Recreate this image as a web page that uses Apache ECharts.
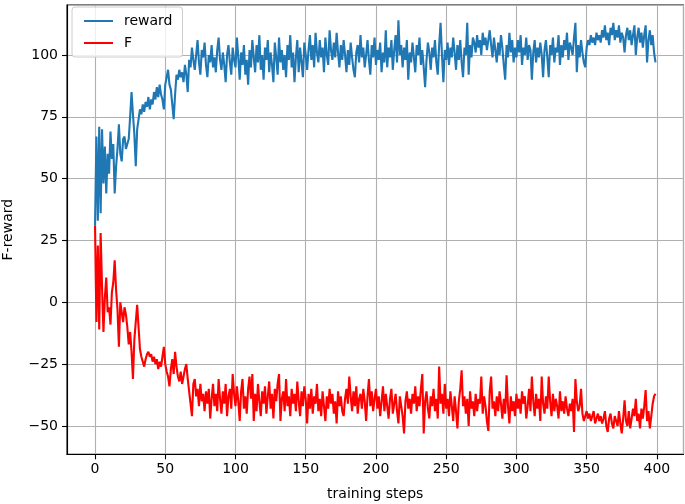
<!DOCTYPE html>
<html>
<head>
<meta charset="utf-8">
<script src="https://cdn.jsdelivr.net/npm/echarts@6/dist/echarts.min.js"></script>
<style>
html,body{margin:0;padding:0;background:#fff;}
#c{width:685px;height:504px;}
</style>
</head>
<body>
<div id="c"></div>
<script>
const seriesNames = ['reward', 'F'];
const xTicks = [0, 50, 100, 150, 200, 250, 300, 350, 400];
const yTicks = [-50, -25, 0, 25, 50, 75, 100];

const reward = [
31, 67, 33, 71, 36, 70, 48, 63, 44, 60, 52, 69, 58, 64, 44, 55, 62, 72, 60, 57,
66, 67, 62, 64, 66, 75, 85, 76, 68, 55, 70, 74, 78, 76, 80, 77, 81, 79, 83, 78,
82, 80, 85, 82, 87, 83, 88, 84, 82, 78, 88, 91, 94, 88, 86, 80, 74, 84, 92, 90,
94, 91, 93, 89, 96, 92, 85, 98, 95, 103, 98, 94, 100, 106, 97, 92, 102, 99, 105, 96,
91, 100, 97, 104, 95, 99, 93, 102, 107, 98, 94, 101, 96, 89, 100, 104, 97, 92, 103, 98,
95, 107, 99, 90, 101, 96, 104, 92, 98, 88, 102, 95, 106, 99, 93, 104, 97, 108, 94, 100,
90, 103, 98, 106, 93, 101, 96, 89, 105, 99, 92, 107, 97, 102, 94, 100, 91, 104, 98, 108,
95, 101, 89, 99, 106, 93, 103, 97, 91, 105, 100, 94, 102, 108, 98, 104, 95, 109, 101, 97,
106, 99, 103, 93, 107, 100, 96, 110, 102, 98, 105, 99, 109, 101, 95, 104, 98, 106, 100, 93,
102, 96, 105, 99, 94, 91, 101, 104, 97, 108, 99, 103, 95, 100, 106, 98, 92, 104, 99, 107,
96, 102, 98, 105, 93, 101, 97, 110, 95, 103, 99, 106, 94, 102, 108, 97, 114, 100, 104, 95,
103, 98, 106, 90, 101, 97, 105, 99, 93, 104, 100, 107, 96, 102, 95, 87, 98, 105, 101, 94,
103, 99, 106, 97, 92, 104, 113, 100, 89, 102, 98, 105, 96, 103, 99, 107, 101, 94, 104, 98,
106, 97, 91, 103, 100, 113, 92, 104, 99, 107, 105, 101, 108, 103, 106, 100, 109, 104, 107, 102,
106, 110, 104, 99, 107, 102, 97, 105, 100, 108, 103, 96, 90, 104, 99, 109, 101, 106, 97, 103,
99, 106, 101, 108, 96, 103, 100, 107, 98, 104, 102, 90, 101, 106, 97, 103, 99, 105, 100, 91,
102, 106, 99, 91, 104, 100, 107, 97, 103, 101, 108, 96, 104, 99, 106, 102, 109, 98, 105, 103,
100, 107, 113, 93, 104, 99, 106, 101, 97, 95, 103, 106, 104, 108, 105, 107, 104, 109, 106, 108,
105, 110, 107, 112, 106, 109, 104, 111, 108, 113, 106, 110, 107, 112, 105, 109, 107, 101, 108, 111,
106, 110, 104, 108, 112, 100, 107, 111, 105, 109, 103, 108, 112, 97, 106, 110, 104, 108, 101, 97
];

const F = [
31, -8, 23, -11, 28, 6, -12, 2, 10, -4, -2, -9, 4, 8, 17, 5, -3, -18, 0, -4,
-8, -2, -5, -10, -17, -12, -20, -31, -15, -8, -1, -10, -19, -22, -24, -26, -23, -21, -20, -22,
-21, -24, -22, -25, -23, -27, -24, -26, -22, -18, -25, -28, -30, -34, -27, -23, -29, -20, -26, -30,
-32, -28, -33, -30, -27, -25, -31, -36, -41, -46, -33, -31, -38, -35, -42, -33, -40, -37, -44, -36,
-41, -35, -47, -39, -33, -42, -37, -44, -31, -39, -45, -36, -41, -33, -46, -38, -35, -43, -29, -37,
-42, -34, -40, -48, -36, -31, -43, -38, -45, -35, -30, -39, -29, -48, -37, -44, -33, -40, -46, -36,
-41, -34, -45, -38, -32, -43, -37, -47, -35, -40, -33, -29, -48, -39, -36, -44, -31, -42, -38, -46,
-35, -41, -37, -44, -32, -40, -46, -36, -42, -34, -39, -49, -37, -43, -35, -45, -38, -41, -33, -44,
-39, -46, -36, -42, -48, -38, -43, -35, -41, -37, -45, -40, -49, -36, -42, -38, -44, -46, -39, -35,
-41, -30, -38, -44, -36, -42, -34, -45, -39, -37, -43, -35, -40, -48, -38, -31, -42, -36, -44, -39,
-35, -43, -38, -46, -40, -34, -44, -37, -42, -47, -39, -35, -45, -41, -37, -44, -49, -38, -42, -46,
-53, -40, -36, -43, -39, -45, -37, -41, -34, -44, -38, -42, -35, -29, -53, -40, -36, -43, -47, -38,
-42, -35, -44, -39, -47, -26, -41, -37, -45, -33, -43, -39, -46, -36, -42, -48, -38, -44, -51, -40,
-35, -27.5, -42, -38, -45, -39, -50, -36, -43, -40, -46, -37, -44, -39, -41, -30, -45, -38, -42, -48,
-52, -36, -30, -43, -40, -46, -38, -44, -36, -41, -47, -39, -45, -29.5, -42, -49, -38, -44, -40, -46,
-37, -43, -39, -45, -36, -41, -38, -47, -42, -35, -44, -30, -40, -46, -37, -43, -39, -48, -30, -41,
-45, -38, -43, -30, -40, -46, -37, -44, -39, -42, -47, -36, -44, -40, -45, -38, -43, -46, -41, -44,
-39, -52.4, -31, -40, -44, -42, -35, -45, -48, -46, -44, -47, -45, -48, -46, -44, -49, -47, -45, -48,
-46, -49, -47, -44, -50, -52.4, -47, -45, -49, -51, -46, -48, -50, -44, -49, -53, -47, -39.6, -48, -50,
-44, -51, -47, -43, -46, -39, -48, -45, -51, -43, -47, -42, -35.5, -48, -44, -51, -46, -41, -38, -37
];

const steps = reward.map((_, i) => i);

const chart = echarts.init(document.getElementById('c'), null, {renderer: 'canvas'});
const font = 'DejaVu Sans';
const minus = v => String(v).replace('-', '\u2212');

const option = {
  animation: false,
  backgroundColor: '#ffffff',
  textStyle: {fontFamily: font},
  grid: {
    left: 67, right: 1.5, top: 5, bottom: 49.7,
    show: true, borderColor: '#000', borderWidth: 1.1,
    containLabel: false, outerBoundsMode: 'none'
  },
  legend: {
    left: 72, top: 7,
    orient: 'vertical',
    data: seriesNames,
    icon: 'rect',
    itemWidth: 29, itemHeight: 2,
    itemGap: 4,
    padding: [5, 10, 5, 12],
    backgroundColor: 'rgba(255,255,255,0.8)',
    borderColor: '#cccccc', borderWidth: 1, borderRadius: 3,
    textStyle: {fontFamily: font, fontSize: 14, color: '#000', lineHeight: 18, padding: [0, 0, 0, 6]}
  },
  xAxis: {
    type: 'value',
    min: -19.95, max: 418.95,
    minInterval: 50, maxInterval: 50,
    name: 'training steps',
    nameLocation: 'middle',
    nameGap: 33,
    nameTextStyle: {fontFamily: font, fontSize: 14, color: '#000'},
    axisLine: {show: true, onZero: false, lineStyle: {color: '#000', width: 1.1}},
    axisTick: {show: true, inside: false, length: 5, lineStyle: {color: '#000', width: 1.1}},
    axisLabel: {
      show: true, margin: 8, color: '#000', fontFamily: font, fontSize: 14,
      showMinLabel: false, showMaxLabel: false,
      formatter: v => (xTicks.indexOf(v) >= 0 ? minus(v) : '')
    },
    splitLine: {show: true, lineStyle: {color: '#b0b0b0', width: 1.1}}
  },
  yAxis: {
    type: 'value',
    min: -61.45, max: 120.2,
    minInterval: 25, maxInterval: 25,
    name: 'F-reward',
    nameLocation: 'middle',
    nameGap: 52,
    nameRotate: 90,
    nameTextStyle: {fontFamily: font, fontSize: 14, color: '#000'},
    axisLine: {show: true, onZero: false, lineStyle: {color: '#000', width: 1.1}},
    axisTick: {show: true, inside: false, length: 5, lineStyle: {color: '#000', width: 1.1}},
    axisLabel: {
      show: true, margin: 9, color: '#000', fontFamily: font, fontSize: 14,
      showMinLabel: false, showMaxLabel: false,
      formatter: v => (yTicks.indexOf(v) >= 0 ? minus(v) : '')
    },
    splitLine: {show: true, lineStyle: {color: '#b0b0b0', width: 1.1}}
  },
  series: [
    {
      name: seriesNames[0], type: 'line', showSymbol: false, symbol: 'none',
      data: steps.map((s, i) => [s, reward[i]]),
      lineStyle: {color: '#1f77b4', width: 2.1}, itemStyle: {color: '#1f77b4'},
      z: 3
    },
    {
      name: seriesNames[1], type: 'line', showSymbol: false, symbol: 'none',
      data: steps.map((s, i) => [s, F[i]]),
      lineStyle: {color: '#ff0000', width: 2.1}, itemStyle: {color: '#ff0000'},
      z: 4
    }
  ]
};
chart.setOption(option);
</script>
</body>
</html>
